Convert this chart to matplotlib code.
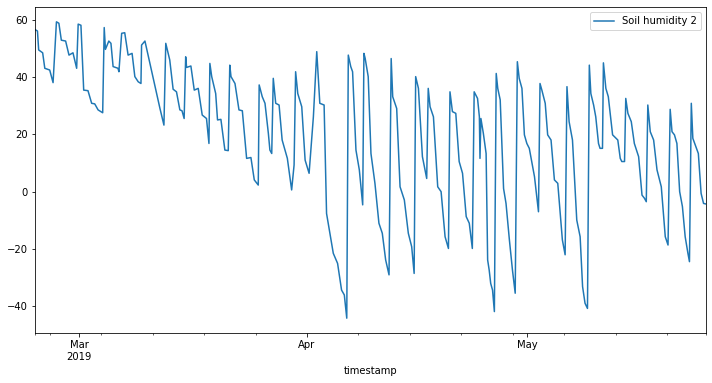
import numpy as np
import pandas as pd
import matplotlib
matplotlib.use('Agg')
import matplotlib.pyplot as plt
import matplotlib.dates as mdates

# 토양 습도 센서 2 - 그림에서 읽은 꼭짓점 값
timestamps = [
    '2019-02-23 00:00', '2019-02-23 08:00', '2019-02-23 12:00', '2019-02-24 01:00', '2019-02-24 08:00',
    '2019-02-25 00:00', '2019-02-25 11:00', '2019-02-25 22:00', '2019-02-26 06:00', '2019-02-26 14:00',
    '2019-02-27 04:00', '2019-02-27 15:00', '2019-02-28 04:00', '2019-02-28 16:00', '2019-02-28 21:00',
    '2019-03-01 06:00', '2019-03-01 15:00', '2019-03-02 05:00', '2019-03-02 17:00', '2019-03-03 03:00',
    '2019-03-03 14:00', '2019-03-04 05:00', '2019-03-04 10:00', '2019-03-04 14:00', '2019-03-05 01:00',
    '2019-03-05 08:00', '2019-03-05 15:00', '2019-03-06 07:00', '2019-03-06 10:00', '2019-03-06 19:00',
    '2019-03-07 05:00', '2019-03-07 16:00', '2019-03-08 05:00', '2019-03-08 14:00', '2019-03-09 01:00',
    '2019-03-09 10:00', '2019-03-09 12:00', '2019-03-09 23:00', '2019-03-12 00:00', '2019-03-12 13:00',
    '2019-03-12 19:00', '2019-03-13 08:00', '2019-03-13 19:00', '2019-03-14 06:00', '2019-03-14 17:00',
    '2019-03-15 00:00', '2019-03-15 07:00', '2019-03-15 12:00', '2019-03-15 15:00', '2019-03-16 05:00',
    '2019-03-16 16:00', '2019-03-17 05:00', '2019-03-17 18:00', '2019-03-18 08:00', '2019-03-18 16:00',
    '2019-03-18 19:00', '2019-03-19 01:00', '2019-03-19 14:00', '2019-03-19 20:00', '2019-03-20 07:00',
    '2019-03-20 20:00', '2019-03-21 07:00', '2019-03-21 12:00', '2019-03-21 16:00', '2019-03-22 05:00',
    '2019-03-22 18:00', '2019-03-23 05:00', '2019-03-23 19:00', '2019-03-24 09:00', '2019-03-24 20:00',
    '2019-03-25 09:00', '2019-03-25 12:00', '2019-03-25 22:00', '2019-03-26 07:00', '2019-03-26 18:00',
    '2019-03-26 23:00', '2019-03-27 05:00', '2019-03-27 10:00', '2019-03-27 18:00', '2019-03-28 05:00',
    '2019-03-28 15:00', '2019-03-29 08:00', '2019-03-29 22:00', '2019-03-30 06:00', '2019-03-30 11:00',
    '2019-03-30 18:00', '2019-03-31 07:00', '2019-03-31 18:00', '2019-04-01 07:00', '2019-04-01 21:00',
    '2019-04-02 08:00', '2019-04-02 18:00', '2019-04-03 08:00', '2019-04-03 16:00', '2019-04-04 03:00',
    '2019-04-04 14:00', '2019-04-05 04:00', '2019-04-05 17:00', '2019-04-06 02:00', '2019-04-06 10:00',
    '2019-04-06 15:00', '2019-04-06 23:00', '2019-04-07 05:00', '2019-04-07 16:00', '2019-04-08 03:00',
    '2019-04-08 14:00', '2019-04-08 18:00', '2019-04-08 22:00', '2019-04-09 08:00', '2019-04-09 17:00',
    '2019-04-10 06:00', '2019-04-10 19:00', '2019-04-11 06:00', '2019-04-11 17:00', '2019-04-12 04:00',
    '2019-04-12 11:00', '2019-04-12 16:00', '2019-04-13 05:00', '2019-04-13 16:00', '2019-04-14 06:00',
    '2019-04-14 19:00', '2019-04-15 06:00', '2019-04-15 14:00', '2019-04-15 19:00', '2019-04-16 04:00',
    '2019-04-16 17:00', '2019-04-17 07:00', '2019-04-17 12:00', '2019-04-17 18:00', '2019-04-18 05:00',
    '2019-04-18 19:00', '2019-04-19 06:00', '2019-04-19 19:00', '2019-04-20 06:00', '2019-04-20 11:00',
    '2019-04-20 19:00', '2019-04-21 06:00', '2019-04-21 17:00', '2019-04-22 04:00', '2019-04-22 16:00',
    '2019-04-23 02:00', '2019-04-23 12:00', '2019-04-23 18:00', '2019-04-24 05:00', '2019-04-24 11:00',
    '2019-04-24 13:00', '2019-04-24 16:00', '2019-04-25 00:00', '2019-04-25 09:00', '2019-04-25 14:00',
    '2019-04-25 19:00', '2019-04-26 00:00', '2019-04-26 06:00', '2019-04-26 12:00', '2019-04-26 18:00',
    '2019-04-26 23:00', '2019-04-27 07:00', '2019-04-27 18:00', '2019-04-28 02:00', '2019-04-28 13:00',
    '2019-04-28 23:00', '2019-04-29 08:00', '2019-04-29 15:00', '2019-04-29 21:00', '2019-04-30 06:00',
    '2019-04-30 14:00', '2019-04-30 22:00', '2019-05-01 06:00', '2019-05-01 23:00', '2019-05-02 12:00',
    '2019-05-02 17:00', '2019-05-02 23:00', '2019-05-03 10:00', '2019-05-03 18:00', '2019-05-04 05:00',
    '2019-05-04 16:00', '2019-05-05 03:00', '2019-05-05 18:00', '2019-05-06 03:00', '2019-05-06 09:00',
    '2019-05-06 16:00', '2019-05-07 03:00', '2019-05-07 17:00', '2019-05-08 04:00', '2019-05-08 12:00',
    '2019-05-08 20:00', '2019-05-09 04:00', '2019-05-09 10:00', '2019-05-09 15:00', '2019-05-10 00:00',
    '2019-05-10 07:00', '2019-05-10 16:00', '2019-05-10 21:00', '2019-05-11 05:00', '2019-05-11 08:00',
    '2019-05-11 16:00', '2019-05-12 00:00', '2019-05-12 14:00', '2019-05-13 01:00', '2019-05-13 07:00',
    '2019-05-13 15:00', '2019-05-13 20:00', '2019-05-14 05:00', '2019-05-14 09:00', '2019-05-14 16:00',
    '2019-05-15 03:00', '2019-05-15 13:00', '2019-05-16 03:00', '2019-05-16 14:00', '2019-05-16 22:00',
    '2019-05-17 04:00', '2019-05-17 09:00', '2019-05-17 17:00', '2019-05-18 04:00', '2019-05-18 15:00',
    '2019-05-19 05:00', '2019-05-19 18:00', '2019-05-20 03:00', '2019-05-20 10:00', '2019-05-20 16:00',
    '2019-05-21 00:00', '2019-05-21 08:00', '2019-05-21 17:00', '2019-05-22 02:00', '2019-05-22 11:00',
    '2019-05-22 20:00', '2019-05-23 01:00', '2019-05-23 07:00', '2019-05-23 12:00', '2019-05-23 22:00',
    '2019-05-24 06:00', '2019-05-24 15:00', '2019-05-24 23:00', '2019-05-25 07:00',
]
soil_humidity_2 = [
    56.5, 56.0, 49.4, 48.4, 43.0, 42.4, 38.0, 59.2, 58.7, 52.8,
    52.5, 47.6, 48.4, 43.0, 58.4, 58.0, 35.4, 35.2, 30.8, 30.6,
    28.5, 27.5, 57.2, 49.6, 52.5, 51.7, 43.6, 43.0, 41.8, 55.2,
    55.4, 47.6, 48.2, 40.1, 38.3, 37.7, 51.1, 52.5, 29.0, 23.2,
    51.7, 45.9, 35.7, 34.8, 28.5, 28.2, 25.5, 47.0, 43.3, 43.8,
    35.4, 36.0, 26.7, 25.5, 16.8, 44.7, 40.1, 34.2, 25.0, 25.2,
    14.5, 14.3, 44.1, 40.1, 37.7, 28.5, 28.2, 11.6, 11.9, 4.1,
    2.3, 37.2, 33.1, 30.8, 20.3, 14.5, 13.3, 39.5, 30.8, 30.2,
    18.0, 11.6, 0.6, 9.3, 41.8, 34.2, 29.6, 11.0, 6.4, 26.1,
    48.8, 30.8, 30.2, -7.6, -14.5, -21.5, -25.0, -34.3, -36.0, -44.1,
    47.6, 43.6, 41.8, 14.5, 7.6, -4.6, 48.2, 46.5, 40.1, 13.3,
    2.9, -11.0, -14.5, -23.8, -29.0, 46.4, 33.1, 29.0, 1.7, -2.9,
    -14.5, -19.2, -28.5, 40.1, 36.0, 12.2, 4.6, 36.0, 29.6, 26.1,
    1.7, 0.0, -15.7, -19.8, 34.8, 27.9, 27.3, 10.5, 6.4, -8.7,
    -11.0, -19.8, 34.8, 32.5, 26.1, 11.6, 25.5, 20.3, 13.3, -23.8,
    -27.3, -32.0, -34.3, -41.8, 41.2, 36.0, 32.0, 1.1, -4.1, -16.8,
    -27.3, -35.4, 45.3, 39.5, 36.0, 19.8, 16.8, 15.1, 5.2, -7.0,
    37.7, 35.4, 30.8, 19.8, 18.0, 4.1, 2.9, -16.8, -22.0, 36.6,
    24.4, 18.0, -9.9, -15.7, -33.1, -38.9, -40.7, 44.1, 34.2, 30.2,
    26.1, 16.8, 15.1, 15.1, 44.9, 36.0, 33.1, 19.8, 18.6, 18.0,
    11.6, 10.5, 10.5, 32.5, 27.3, 24.4, 16.8, 12.2, -1.2, -2.3,
    -3.5, 30.2, 20.9, 18.0, 7.6, 1.7, -15.7, -18.6, 28.7, 20.9,
    19.8, 16.8, 0.0, -5.2, -15.7, -21.5, -24.4, 30.8, 18.6, 15.7,
    13.3, -0.6, -4.1, -4.3,
]

major_dates = ['2019-03-01', '2019-04-01', '2019-05-01']
major_labels = ['Mar\n2019', 'Apr', 'May']

t = pd.to_datetime(timestamps)

plt.rcParams['font.size'] = 10
fig = plt.figure(figsize=(712 / 72, 383 / 72), dpi=72)
ax = fig.add_axes([35 / 712, 1 - 333 / 383, 671 / 712, 326 / 383])

ax.plot(t, soil_humidity_2, color='#1f77b4', lw=1.5, label='Soil humidity 2')
ax.set_xlim(t[0], t[-1])

# 주 눈금: 월 시작, 보조 눈금: 월요일 + 양 끝
ax.xaxis.set_major_locator(mdates.MonthLocator())
ax.set_xticks(pd.to_datetime(major_dates))
ax.set_xticklabels(major_labels, ha='center')
mondays = pd.date_range(t[0].normalize(), t[-1], freq='W-MON')
ax.set_xticks(list(mondays) + [t[0], t[-1]], minor=True)
ax.tick_params(axis='x', which='minor', length=2)
ax.tick_params(axis='x', which='major', length=3.5)

ax.set_yticks([-40, -20, 0, 20, 40, 60])
ax.set_xlabel('timestamp')
ax.legend(loc='upper right')

fig.savefig('out.png', dpi=72)
